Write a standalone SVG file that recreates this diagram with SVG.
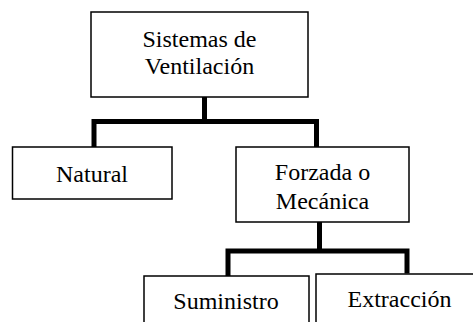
<svg xmlns="http://www.w3.org/2000/svg" width="473" height="322" viewBox="0 0 473 322">
<style>
.box{fill:#fff;stroke:#000;stroke-width:1.5}
.t{font-family:"Liberation Serif","Times New Roman",serif;font-size:24px;fill:#000;text-anchor:middle}
.c{fill:none;stroke:#000;stroke-width:5;stroke-linecap:butt;stroke-linejoin:miter}
</style>
<rect width="473" height="322" fill="#fff"/>
<g id="connectors">
<path class="c" d="M204.5 97 V121.5 M94 147 V121.5 H316.5 V147"/>
<path class="c" d="M319.5 222 V251 M228 276 V251 H407 V273.5"/>
</g>
<g id="root"><rect class="box" x="91" y="12" width="217" height="85"/><text class="t" x="199.5" y="47">Sistemas de</text><text class="t" x="199.5" y="74">Ventilación</text></g>
<g id="natural"><rect class="box" x="12.5" y="147" width="159.5" height="52"/><text class="t" x="92" y="182">Natural</text></g>
<g id="forzada"><rect class="box" x="236" y="147" width="173" height="75"/><text class="t" x="322.5" y="180">Forzada o</text><text class="t" x="322.5" y="209">Mecánica</text></g>
<g id="suministro"><rect class="box" x="144" y="276" width="165" height="60"/><text class="t" x="226" y="309">Suministro</text></g>
<g id="extraccion"><rect class="box" x="316" y="274" width="170" height="60"/><text class="t" x="399.5" y="307">Extracción</text></g>
</svg>
